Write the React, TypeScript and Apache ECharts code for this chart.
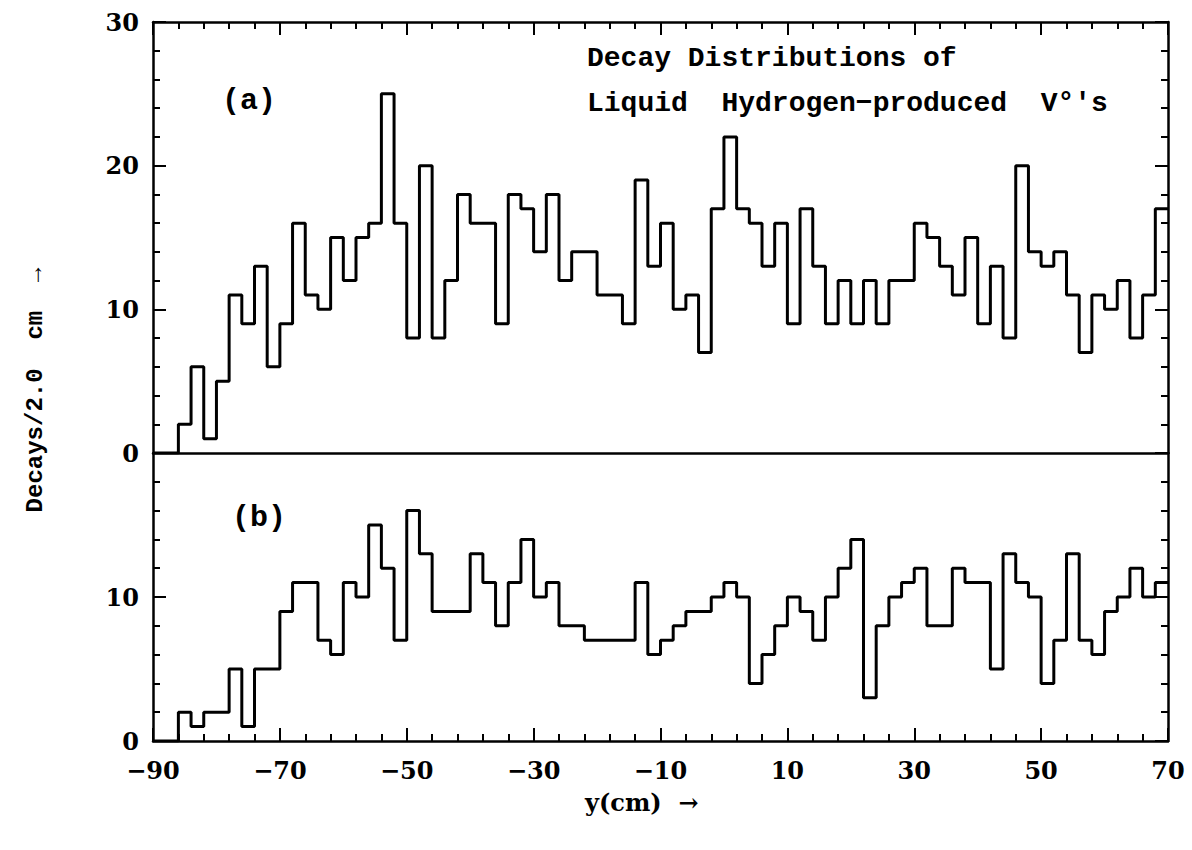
import React, { useEffect, useRef } from "react";
import * as echarts from "echarts";

// Histogram settings (cm)
const BIN_START = -90;
const BIN_WIDTH = 2;

// (a) Decays per 2.0 cm bin, from -90 cm to 70 cm
const topCounts = [
  0, 0, 2, 6, 1, 5, 11, 9, 13, 6,
  9, 16, 11, 10, 15, 12, 15, 16, 25, 16,
  8, 20, 8, 12, 18, 16, 16, 9, 18, 17,
  14, 18, 12, 14, 14, 11, 11, 9, 19, 13,
  16, 10, 11, 7, 17, 22, 17, 16, 13, 16,
  9, 17, 13, 9, 12, 9, 12, 9, 12, 12,
  16, 15, 13, 11, 15, 9, 13, 8, 20, 14,
  13, 14, 11, 7, 11, 10, 12, 8, 11, 17,
];

// (b) Decays per 2.0 cm bin
const bottomCounts = [
  0, 0, 2, 1, 2, 2, 5, 1, 5, 5,
  9, 11, 11, 7, 6, 11, 10, 15, 12, 7,
  16, 13, 9, 9, 9, 13, 11, 8, 11, 14,
  10, 11, 8, 8, 7, 7, 7, 7, 11, 6,
  7, 8, 9, 9, 10, 11, 10, 4, 6, 8,
  10, 9, 7, 10, 12, 14, 3, 8, 10, 11,
  12, 8, 8, 12, 11, 11, 5, 13, 11, 10,
  4, 7, 13, 7, 6, 9, 10, 12, 10, 11,
];

const xTicks = { min: -90, max: 70, interval: 20 };
const topY = { min: 0, max: 30, interval: 10 };
const bottomY = { min: 0, max: 20, interval: 10 };

const titleLine1 = "Decay Distributions of";
const titleLine2 = "Liquid  Hydrogen\u2212produced  V\u00b0's";
const panelA = "(a)";
const panelB = "(b)";
const yName = "Decays/2.0  cm  \u2192";
const xName = "y(cm)  \u2192";

function stepPoints(counts: number[]): number[][] {
  const pts = counts.map((v, i) => [BIN_START + i * BIN_WIDTH, v]);
  pts.push([BIN_START + counts.length * BIN_WIDTH, counts[counts.length - 1]]);
  return pts;
}

const fmtX = (v: number) => (v < 0 ? "\u2212" + Math.abs(v) : String(v));

export default function App() {
  const ref = useRef<HTMLDivElement>(null);
  useEffect(() => {
    if (!ref.current) return;
    const chart = echarts.init(ref.current, null, { renderer: "svg" });
    const black = "#000";
    const lineW = 2.5;
    const labelFont = {
      fontFamily: "DejaVu Serif",
      fontWeight: "bold" as const,
      fontSize: 24,
      color: black,
    };
    const tickInside = { show: true, inside: true, length: 13, lineStyle: { color: black, width: 2 } };
    const minorInside = { show: true, splitNumber: 5, length: 7, lineStyle: { color: black, width: 2 } };
    const axisLine = { show: true, onZero: false, lineStyle: { color: black, width: lineW } };

    const mkX = (gridIndex: number, position: string, ticks: boolean, labels: boolean) => ({
      type: "value",
      gridIndex,
      position,
      min: xTicks.min,
      max: xTicks.max,
      interval: xTicks.interval,
      axisLine,
      axisTick: ticks ? tickInside : { show: false },
      minorTick: ticks ? minorInside : { show: false },
      axisLabel: labels ? { ...labelFont, margin: 17, formatter: fmtX } : { show: false },
      splitLine: { show: false },
      minorSplitLine: { show: false },
    });
    const mkY = (gridIndex: number, position: string, range: any, labels: boolean, hideTop: boolean) => ({
      type: "value",
      gridIndex,
      position,
      min: range.min,
      max: range.max,
      interval: range.interval,
      axisLine,
      axisTick: tickInside,
      minorTick: minorInside,
      axisLabel: labels
        ? {
            ...labelFont,
            margin: 14,
            formatter: (v: number) => (hideTop && v === range.max ? "" : String(v)),
          }
        : { show: false },
      splitLine: { show: false },
      minorSplitLine: { show: false },
    });

    const textStyle = (font: string, size: number) => ({
      fontFamily: font,
      fontWeight: "bold",
      fontSize: size,
      fill: black,
    });

    chart.setOption({
      animation: false,
      backgroundColor: "#fff",
      grid: [
        { left: 153, top: 22, width: 1015, height: 431 },
        { left: 153, top: 453, width: 1015, height: 288 },
      ],
      xAxis: [
        mkX(0, "bottom", false, false),
        mkX(0, "top", true, false),
        mkX(1, "bottom", true, true),
      ],
      yAxis: [
        mkY(0, "left", topY, true, false),
        mkY(0, "right", topY, false, false),
        mkY(1, "left", bottomY, true, true),
        mkY(1, "right", bottomY, false, false),
      ],
      series: [
        {
          type: "line",
          xAxisIndex: 0,
          yAxisIndex: 0,
          step: "end",
          symbol: "none",
          data: stepPoints(topCounts),
          lineStyle: { color: black, width: 3 },
        },
        {
          type: "line",
          xAxisIndex: 2,
          yAxisIndex: 2,
          step: "end",
          symbol: "none",
          data: stepPoints(bottomCounts),
          lineStyle: { color: black, width: 3 },
        },
      ],
      graphic: [
        {
          type: "text",
          left: 587,
          top: 44,
          style: { text: titleLine1, ...textStyle("Liberation Mono", 28) },
        },
        {
          type: "text",
          left: 587,
          top: 89,
          style: { text: titleLine2, ...textStyle("Liberation Mono", 28) },
        },
        {
          type: "text",
          left: 222,
          top: 86,
          style: { text: panelA, ...textStyle("Liberation Mono", 30) },
        },
        {
          type: "text",
          left: 232,
          top: 503,
          style: { text: panelB, ...textStyle("Liberation Mono", 30) },
        },
        {
          type: "text",
          x: 35,
          y: 390,
          rotation: Math.PI / 2,
          style: {
            text: yName,
            ...textStyle("Liberation Mono", 24),
            align: "center",
            verticalAlign: "middle",
          },
        },
        {
          type: "text",
          left: 585,
          top: 790,
          style: { text: xName, ...textStyle("DejaVu Serif", 24) },
        },
      ],
    });
    return () => chart.dispose();
  }, []);
  return (
    <div
      ref={ref}
      style={{ position: "fixed", left: 0, top: 0, width: 1192, height: 850, background: "#fff" }}
    />
  );
}
